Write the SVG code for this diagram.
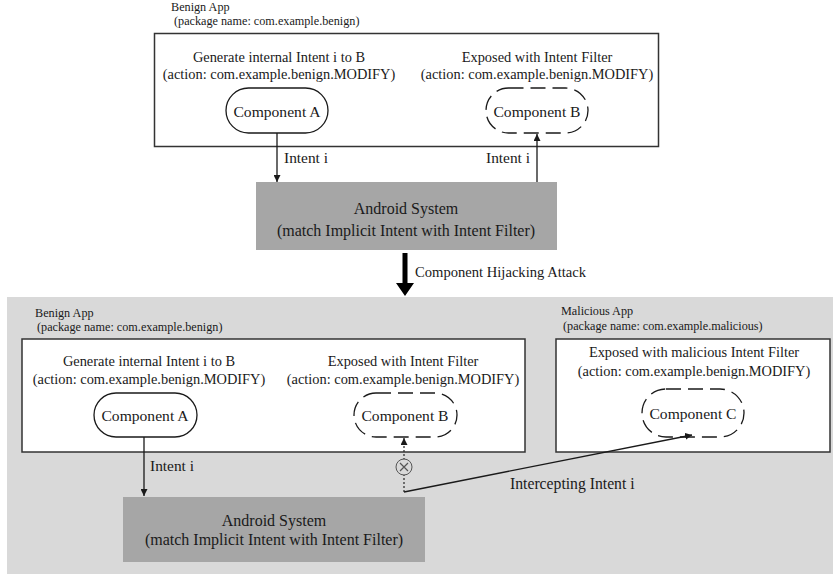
<svg xmlns="http://www.w3.org/2000/svg" width="833" height="574" viewBox="0 0 833 574">
<style>
text{font-family:"Liberation Serif","Times New Roman",serif;fill:#1a1a1a}
.app{font-size:12.2px}
.desc{font-size:14.4px;text-anchor:middle}
.comp{font-size:15.6px;text-anchor:middle}
.sys{font-size:16px;text-anchor:middle}
.lbl{font-size:15.4px}
.box{fill:#fff;stroke:#333;stroke-width:1.5}
.pill{fill:#fff;stroke:#1a1a1a;stroke-width:1.3}
.dpill{fill:#fff;stroke:#1a1a1a;stroke-width:1.3;stroke-dasharray:15 7}
.android{fill:#a6a6a6}
.conn{fill:none;stroke:#1a1a1a;stroke-width:1.3}
.dot{fill:none;stroke:#333;stroke-width:1.3;stroke-dasharray:2 2}
</style>
<defs>
<marker id="ah" viewBox="0 0 8 8" refX="8" refY="4" markerWidth="7" markerHeight="7" markerUnits="userSpaceOnUse" orient="auto">
<path d="M0,0 L8,4 L0,8 z" fill="#1a1a1a"/>
</marker>
</defs>

<rect x="0" y="0" width="833" height="574" fill="#fff"/>

<!-- Top scenario -->
<g id="top-benign-app">
<text class="app" x="171" y="11">Benign App</text>
<text class="app" x="174" y="25">(package name: com.example.benign)</text>
<rect class="box" x="154.5" y="33.5" width="504" height="113"/>
<text class="desc" x="279" y="62">Generate internal Intent i to B</text>
<text class="desc" x="279" y="79">(action: com.example.benign.MODIFY)</text>
<text class="desc" x="537" y="62">Exposed with Intent Filter</text>
<text class="desc" x="537" y="79">(action: com.example.benign.MODIFY)</text>
</g>
<g id="top-component-a">
<rect class="pill" x="226" y="88" width="102" height="45" rx="22.5"/>
<text class="comp" x="277" y="117">Component A</text>
</g>
<g id="top-component-b">
<rect class="dpill" x="486" y="88" width="102" height="45" rx="22.5"/>
<text class="comp" x="537" y="117">Component B</text>
</g>
<g id="top-android-system">
<rect class="android" x="256" y="182" width="301" height="68"/>
<text class="sys" x="406" y="214">Android System</text>
<text class="sys" x="406" y="236">(match Implicit Intent with Intent Filter)</text>
</g>

<!-- Transition arrow -->
<g id="hijack-arrow">
<polygon points="402.5,253 407.5,253 407.5,283 414,283 405,296 396,283 402.5,283" fill="#000"/>
<text x="415" y="277" style="font-size:14.6px">Component Hijacking Attack</text>
</g>

<!-- Bottom scenario -->
<rect x="7" y="297" width="826" height="277" fill="#d9d9d9"/>

<g id="bottom-benign-app">
<text class="app" x="35" y="317">Benign App</text>
<text class="app" x="37" y="331">(package name: com.example.benign)</text>
<rect class="box" x="22" y="339" width="503" height="113"/>
<text class="desc" x="149" y="366">Generate internal Intent i to B</text>
<text class="desc" x="149" y="384">(action: com.example.benign.MODIFY)</text>
<text class="desc" x="403" y="366">Exposed with Intent Filter</text>
<text class="desc" x="403" y="384">(action: com.example.benign.MODIFY)</text>
</g>
<g id="bottom-component-a">
<rect class="pill" x="94" y="393" width="103" height="44" rx="22"/>
<text class="comp" x="145" y="421">Component A</text>
</g>
<g id="bottom-component-b">
<rect class="dpill" x="354" y="393" width="103" height="44" rx="22"/>
<text class="comp" x="405" y="421">Component B</text>
</g>

<g id="malicious-app">
<text class="app" x="561" y="315">Malicious App</text>
<text class="app" x="563" y="330">(package name: com.example.malicious)</text>
<rect class="box" x="556" y="339" width="274" height="113"/>
<text class="desc" x="694" y="357">Exposed with malicious Intent Filter</text>
<text class="desc" x="694" y="376">(action: com.example.benign.MODIFY)</text>
</g>
<g id="component-c">
<rect class="dpill" x="642" y="389" width="102" height="48" rx="24"/>
<text class="comp" x="693" y="419">Component C</text>
</g>

<g id="bottom-android-system">
<rect class="android" x="123" y="497" width="302" height="65"/>
<text class="sys" x="274" y="526">Android System</text>
<text class="sys" x="274" y="545">(match Implicit Intent with Intent Filter)</text>
</g>

<!-- Connectors -->
<g id="connectors">
<line class="conn" x1="277" y1="133" x2="277" y2="182" marker-end="url(#ah)"/>
<text class="lbl" x="284" y="163">Intent i</text>
<line class="conn" x1="537" y1="182" x2="537" y2="134" marker-end="url(#ah)"/>
<text class="lbl" x="486" y="163">Intent i</text>

<line class="conn" x1="144" y1="437" x2="144" y2="496" marker-end="url(#ah)"/>
<text class="lbl" x="150" y="471">Intent i</text>

<line class="dot" x1="404" y1="492" x2="404" y2="438" marker-end="url(#ah)"/>
<circle cx="404" cy="467" r="8" fill="#d9d9d9" stroke="#555" stroke-width="1"/>
<path d="M400,463 L408,471 M408,463 L400,471" stroke="#555" stroke-width="1.2"/>
<polyline class="conn" points="404,492 692,435" marker-end="url(#ah)"/>
<text class="lbl" x="510" y="489" style="font-size:15.7px">Intercepting Intent i</text>
</g>
</svg>
